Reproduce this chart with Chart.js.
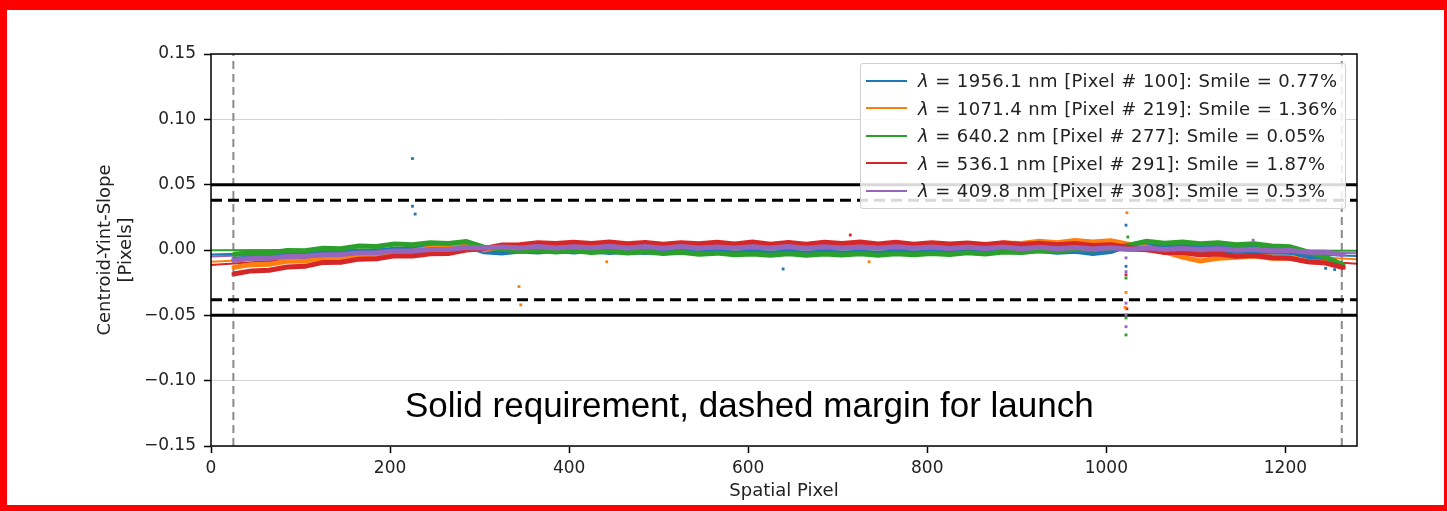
<!DOCTYPE html>
<html>
<head>
<meta charset="utf-8">
<script src="https://cdn.jsdelivr.net/npm/chart.js@4.4.1/dist/chart.umd.min.js"></script>
<style>
  body { margin: 0; background: #fff; }
  #wrap { position: relative; width: 1447px; height: 511px; overflow: hidden; background: #fff; }
  #chart { position: absolute; left: 0; top: 0; }
  .frame { position: absolute; background: #ff0000; }
  #legend {
    position: absolute; left: 860px; top: 63px; width: 486px; height: 146px;
    box-sizing: border-box; padding-top: 3px;
    border: 1px solid #d0d0d0; border-radius: 3px; background: rgba(255,255,255,0.85);
    font-family: "DejaVu Sans", sans-serif; font-size: 18px; letter-spacing: 0.4px; color: #222;
  }
  #legend .row { display: flex; align-items: center; height: 27.5px; white-space: nowrap; }
  #legend .sw { display: inline-block; width: 41px; height: 2px; margin-left: 5px; margin-right: 11px; }
  #note {
    position: absolute; left: 405px; top: 387px; line-height: 35px;
    font-family: "Liberation Sans", Arial, sans-serif; font-size: 35px; color: #000; white-space: nowrap;
  }
</style>
</head>
<body>
<div id="wrap">
  <canvas id="chart" width="1447" height="511"></canvas>
  <div id="legend"></div>
  <div id="note">Solid requirement, dashed margin for launch</div>
  <div class="frame" style="left:0;top:0;width:7px;height:511px"></div>
  <div class="frame" style="left:0;top:0;width:1447px;height:10px"></div>
  <div class="frame" style="left:0;top:505px;width:1447px;height:6px"></div>
  <div class="frame" style="left:1444px;top:0;width:3px;height:511px"></div>
</div>
<script>
const xs = [25,45,65,85,105,125,145,165,185,205,225,245,265,285,305,325,345,365,385,405,
  425,445,465,485,505,525,545,565,585,605,625,645,665,685,705,725,745,765,785,805,
  825,845,865,885,905,925,945,965,985,1005,1025,1045,1065,1085,1105,1125,1145,1165,1185,1205,
  1225,1245,1265];

// Measured centroid slope per wavelength (pixels)
const blue = [-0.0072,-0.0060,-0.0057,-0.0044,-0.0040,-0.0027,-0.0024,-0.0011,-0.0008,0.0005,
  0.0008,0.0021,0.0022,0.0032,-0.0014,-0.0022,-0.0008,-0.0016,-0.0004,-0.0015,
  -0.0006,-0.0019,-0.0009,-0.0020,-0.0007,-0.0014,-0.0022,-0.0009,-0.0024,-0.0016,
  -0.0025,-0.0015,-0.0027,-0.0014,-0.0024,-0.0017,-0.0026,-0.0013,-0.0023,-0.0015,
  -0.0021,-0.0012,-0.0020,-0.0008,-0.0016,-0.0004,-0.0018,-0.0010,-0.0026,-0.0012,
  0.0034,0.0044,0.0032,0.0041,0.0027,0.0034,0.0018,0.0022,0.0001,-0.0012,
  -0.0050,-0.0085,-0.0135];
const orange = [-0.0133,-0.0112,-0.0110,-0.0086,-0.0084,-0.0062,-0.0060,-0.0036,-0.0034,-0.0012,
  -0.0010,0.0016,0.0026,0.0062,0.0000,0.0026,0.0018,0.0034,0.0022,0.0031,
  0.0024,0.0038,0.0023,0.0036,0.0022,0.0035,0.0027,0.0039,0.0024,0.0034,
  0.0025,0.0038,0.0023,0.0036,0.0028,0.0039,0.0026,0.0040,0.0027,0.0038,
  0.0030,0.0044,0.0036,0.0054,0.0049,0.0066,0.0055,0.0072,0.0061,0.0070,
  0.0044,0.0024,-0.0014,-0.0055,-0.0084,-0.0064,-0.0056,-0.0046,-0.0064,-0.0062,
  -0.0088,-0.0096,-0.0122];
const green = [-0.0033,-0.0021,-0.0022,-0.0004,-0.0006,0.0014,0.0010,0.0031,0.0027,0.0046,
  0.0040,0.0056,0.0050,0.0064,0.0022,0.0008,-0.0010,-0.0002,-0.0015,-0.0006,
  -0.0020,-0.0009,-0.0023,-0.0014,-0.0027,-0.0018,-0.0033,-0.0024,-0.0037,-0.0030,
  -0.0040,-0.0029,-0.0041,-0.0030,-0.0038,-0.0028,-0.0040,-0.0029,-0.0036,-0.0027,
  -0.0035,-0.0022,-0.0030,-0.0015,-0.0020,-0.0005,-0.0010,0.0005,0.0000,0.0016,
  0.0036,0.0066,0.0052,0.0061,0.0047,0.0056,0.0041,0.0047,0.0030,0.0025,
  -0.0015,-0.0055,-0.0115];
const red = [-0.0184,-0.0160,-0.0155,-0.0130,-0.0125,-0.0095,-0.0094,-0.0070,-0.0067,-0.0045,
  -0.0046,-0.0028,-0.0026,-0.0001,0.0011,0.0039,0.0041,0.0056,0.0049,0.0060,
  0.0050,0.0061,0.0047,0.0058,0.0044,0.0056,0.0048,0.0060,0.0046,0.0061,
  0.0045,0.0058,0.0044,0.0059,0.0050,0.0062,0.0046,0.0059,0.0044,0.0055,
  0.0046,0.0054,0.0043,0.0055,0.0042,0.0052,0.0041,0.0049,0.0035,0.0041,
  0.0020,0.0004,-0.0020,-0.0020,-0.0038,-0.0031,-0.0047,-0.0043,-0.0060,-0.0063,
  -0.0090,-0.0100,-0.0135];
const purple = [-0.0078,-0.0065,-0.0063,-0.0049,-0.0048,-0.0037,-0.0035,-0.0022,-0.0021,-0.0007,
  -0.0008,0.0004,0.0004,0.0019,0.0016,0.0023,0.0015,0.0026,0.0015,0.0025,
  0.0018,0.0028,0.0016,0.0026,0.0014,0.0027,0.0016,0.0023,0.0016,0.0024,
  0.0015,0.0026,0.0014,0.0025,0.0016,0.0023,0.0016,0.0024,0.0015,0.0023,
  0.0012,0.0023,0.0011,0.0022,0.0010,0.0021,0.0009,0.0019,0.0008,0.0017,
  0.0006,0.0015,0.0004,0.0012,0.0003,0.0009,0.0000,0.0006,-0.0006,-0.0004,
  -0.0018,-0.0018,-0.0034];

// Stray points [x, y]
const blueOut = [[225,0.0700],[225,0.0335],[228,0.0275],[639,-0.0145],[1022,0.0190],[1022,-0.0125],[1245,-0.0140],[1255,-0.0150]];
const orangeOut = [[344,-0.0280],[346,-0.0420],[442,-0.0090],[735,-0.0090],[1023,0.0285],[1022,-0.0325],[1021,-0.0440]];
const greenOut = [[1024,0.0100],[1022,-0.0215],[1022,-0.0520],[1022,-0.0650]];
const redOut = [[714,0.0115],[1022,-0.0190],[1023,-0.0450]];
const purpleOut = [[1164,0.0075],[1022,-0.0060],[1022,-0.0166],[1022,-0.0407],[1022,-0.0498],[1022,-0.0587]];

// Smile fits, read at a few positions across the full detector
const fitXs = [0,160,320,480,640,800,960,1120,1280];
const blueFit = [-0.0035,-0.0008,0.0007,0.0014,0.0015,0.0012,0.0003,-0.0015,-0.0045];
const orangeFit = [-0.0090,-0.0030,0.0010,0.0033,0.0040,0.0035,0.0015,-0.0020,-0.0070];
const greenFit = [-0.0002,0.0001,0.0003,0.0004,0.0004,0.0003,0.0001,-0.0002,-0.0005];
const redFit = [-0.0115,-0.0045,0.0005,0.0030,0.0040,0.0035,0.0012,-0.0032,-0.0105];
const purpleFit = [-0.0050,-0.0012,0.0010,0.0022,0.0025,0.0022,0.0012,-0.0005,-0.0025];

const labels = [
  ['1956.1', '100', '0.77%'],
  ['1071.4', '219', '1.36%'],
  ['640.2', '277', '0.05%'],
  ['536.1', '291', '1.87%'],
  ['409.8', '308', '0.53%']
];
const colors = ['#1f77b4', '#ff7f0e', '#2ca02c', '#d62728', '#9467bd'];

const requirement = 0.05;
const launchMargin = 0.038;
const edgePixels = [25, 1263];
const xMax = 1280;

const toPts = (xArr, yArr) => xArr.map((x, i) => ({ x: x, y: yArr[i] }));
const pairs = arr => arr.map(p => ({ x: p[0], y: p[1] }));

const bands = [blue, orange, green, red, purple];
const fits = [blueFit, orangeFit, greenFit, redFit, purpleFit];
const outs = [blueOut, orangeOut, greenOut, redOut, purpleOut];
// purple on top, then red, green, orange, blue
const bandOrder = [6, 5, 4, 3, 2];

const datasets = [];
bands.forEach((b, i) => {
  datasets.push({
    data: toPts(xs, b), borderColor: colors[i], backgroundColor: colors[i],
    showLine: true, borderWidth: 5, pointStyle: 'rect', pointRadius: 2.5, pointBorderWidth: 0,
    order: bandOrder[i]
  });
  datasets.push({
    data: toPts(fitXs, fits[i]), borderColor: colors[i], showLine: true,
    borderWidth: 2, pointRadius: 0, tension: 0.4, order: 7
  });
  datasets.push({
    data: pairs(outs[i]), backgroundColor: colors[i], borderColor: colors[i],
    pointStyle: 'rect', pointRadius: 2, borderWidth: 0, order: 1
  });
});
[requirement, -requirement].forEach(v => {
  datasets.push({ data: [{ x: 0, y: v }, { x: xMax, y: v }], borderColor: '#000', showLine: true, borderWidth: 3, pointRadius: 0, order: 8 });
});
[launchMargin, -launchMargin].forEach(v => {
  datasets.push({ data: [{ x: 0, y: v }, { x: xMax, y: v }], borderColor: '#000', showLine: true, borderWidth: 3, borderDash: [11, 6], pointRadius: 0, order: 8 });
});
edgePixels.forEach(x => {
  datasets.push({ data: [{ x: x, y: -0.15 }, { x: x, y: 0.15 }], borderColor: '#8a8a8a', showLine: true, borderWidth: 2, borderDash: [8, 5], pointRadius: 0, order: 9 });
});

// legend as html (lambda in italics)
const legendEl = document.getElementById('legend');
labels.forEach((l, i) => {
  const row = document.createElement('div');
  row.className = 'row';
  row.innerHTML = '<span class="sw" style="background:' + colors[i] + '"></span>' +
    '<span><i>λ</i> = ' + l[0] + ' nm [Pixel # ' + l[1] + ']: Smile = ' + l[2] + '</span>';
  legendEl.appendChild(row);
});

const frameBox = {
  id: 'frameBox',
  afterDatasetsDraw(chart) {
    const a = chart.chartArea;
    const ctx = chart.ctx;
    ctx.save();
    ctx.strokeStyle = '#000';
    ctx.lineWidth = 1.5;
    ctx.strokeRect(a.left, a.top, a.right - a.left, a.bottom - a.top);
    ctx.restore();
  }
};

new Chart(document.getElementById('chart'), {
  type: 'scatter',
  data: { datasets: datasets },
  options: {
    responsive: false,
    animation: false,
    layout: { padding: { left: 95, top: 54, right: 90, bottom: 6 } },
    plugins: { legend: { display: false }, tooltip: { enabled: false } },
    scales: {
      x: {
        type: 'linear', min: 0, max: xMax,
        afterFit: s => { s.height = 59; },
        afterBuildTicks: s => { s.ticks = s.ticks.filter(t => t.value % 200 === 0); },
        ticks: { stepSize: 200, padding: 5, color: '#222', font: { family: 'DejaVu Sans', size: 17 },
          callback: v => String(v) },
        grid: { drawOnChartArea: false, tickLength: 7, tickColor: '#000', tickWidth: 1.5 },
        border: { display: false },
        title: { display: true, text: 'Spatial Pixel', color: '#222', padding: { top: 4, bottom: 3 },
          font: { family: 'DejaVu Sans', size: 18, lineHeight: 1.15 } }
      },
      y: {
        min: -0.15, max: 0.15,
        afterFit: s => { s.width = 116; },
        ticks: {
          stepSize: 0.05, padding: 8, color: '#222', font: { family: 'DejaVu Sans', size: 17 },
          callback: v => Math.abs(v) < 1e-9 ? '0.00' : v.toFixed(2).replace('-', '\u2212')
        },
        grid: { color: '#d4d4d4', lineWidth: 1, tickLength: 7, tickColor: '#000', tickWidth: 1.5 },
        border: { display: false },
        title: { display: true, text: ['Centroid-Yint-Slope', '[Pixels]'], color: '#222', padding: 0,
          font: { family: 'DejaVu Sans', size: 18, lineHeight: 1.15 } }
      }
    }
  },
  plugins: [frameBox]
});
</script>
</body>
</html>
